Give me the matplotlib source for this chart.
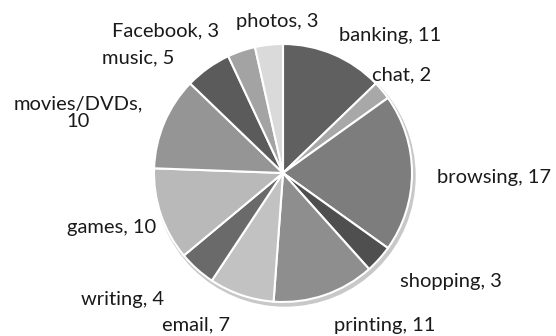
import matplotlib.pyplot as plt
from matplotlib.patches import Circle

categories = ['banking', 'chat', 'browsing', 'shopping', 'printing', 'email',
              'writing', 'games', 'movies/DVDs', 'music', 'Facebook', 'photos']
values = [11, 2, 17, 3, 11, 7, 4, 10, 10, 5, 3, 3]
colors = ['#606060', '#a8a8a8', '#7d7d7d', '#4f4f4f', '#8e8e8e', '#c2c2c2',
          '#6a6a6a', '#b9b9b9', '#959595', '#5b5b5b', '#a3a3a3', '#dadada']

# label positions in pixel coords (centre x, y from top)
label_pos = {
    'banking': (390, 35), 'chat': (402, 75), 'browsing': (494, 177),
    'shopping': (451, 281), 'printing': (385, 325), 'email': (196, 325),
    'writing': (123, 299), 'games': (112, 227), 'movies/DVDs': (78, 113),
    'music': (138, 58), 'Facebook': (166, 31), 'photos': (277, 21),
}

W, H = 556, 336
fig = plt.figure(figsize=(W / 100, H / 100), dpi=100)
ax = fig.add_axes([0, 0, 1, 1])

cx, cy, r = 283, H - 173, 129
ax.add_patch(Circle((cx + 2, cy - 3), r + 1, color='#c8c8c8', zorder=0))
ax.pie(values, colors=colors, startangle=90, counterclock=False,
       center=(cx, cy), radius=r, frame=True,
       wedgeprops=dict(edgecolor='white', linewidth=1.5))
ax.set_xlim(0, W)
ax.set_ylim(0, H)
ax.set_aspect('equal')
ax.axis('off')

for cat, v in zip(categories, values):
    x, y = label_pos[cat]
    if cat == 'movies/DVDs':
        txt = cat + ',\n' + str(v)
    else:
        txt = cat + ', ' + str(v)
    ax.text(x, H - y, txt, ha='center', va='center', fontsize=14.5,
            family='Lato', color='#1a1a1a', linespacing=1.05)

plt.savefig('out.png', dpi=100)
